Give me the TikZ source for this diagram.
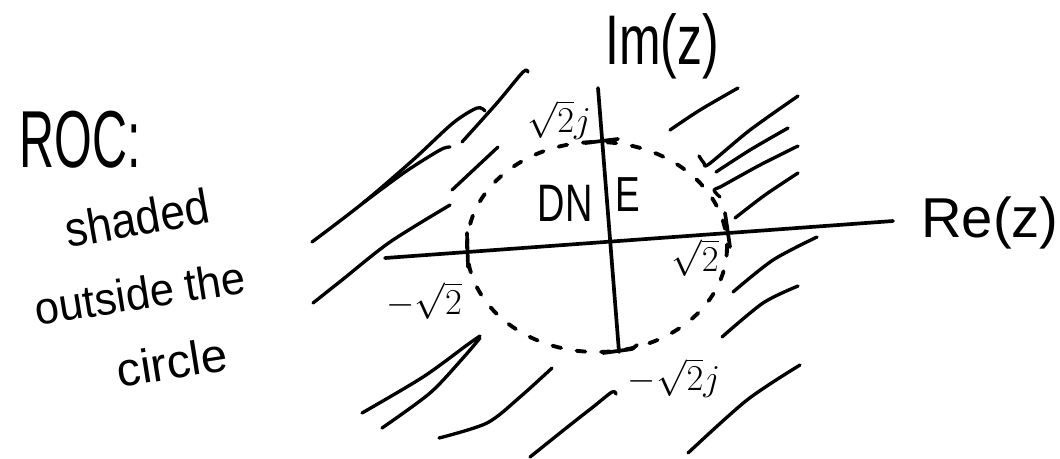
\documentclass[tikz,border=0pt]{standalone}
\usepackage{fontspec}
\setmainfont{Liberation Sans}
\usepackage{graphicx}
\newcommand{\squeeze}[2]{\scalebox{#1}[1]{#2}}

\begin{document}
\begin{tikzpicture}[x=0.02cm, y=-0.02cm, line width=2pt, line cap=round, line join=round,
    hatch/.style={line width=1.9pt},
    axis/.style={line width=2.1pt},
    rim/.style={line width=2.2pt, dash pattern=on 5pt off 9pt},
    scrawl/.style={inner sep=0pt},
    tag/.style={font=\fontsize{22}{26}\selectfont, inner sep=0pt}]

    \useasboundingbox (0,0) rectangle (1060,458);

    % axes
    \coordinate (reL) at (385,258);
    \coordinate (reR) at (893,221);
    \coordinate (imT) at (598,88);
    \coordinate (imB) at (619,352);
    \draw[axis] (reL) -- (reR);
    \draw[axis] (imT) -- (imB);

    % ticks at +-sqrt2 and +-sqrt2 j
    \draw[axis] (467,233) -- (468,267);
    \draw[axis] (725,213) -- (730,247);
    \draw[axis] (585,143) -- (618,139);
    \draw[axis] (603,353) -- (632,349) -- (637,345);

    % dashed circle |z| = sqrt2
    \draw[rim] (597,247) ellipse [x radius=130, y radius=105];

    % shading, upper left
    \draw[hatch] plot[smooth] coordinates {(312,242) (363,203) (413,160) (453,123) (477,108) (485,111)};
    \draw[hatch] plot[smooth] coordinates {(363,203) (405,172) (440,150) (450,147)};
    \draw[hatch] plot[smooth] coordinates {(462,142) (497,103) (523,72) (528,72)};
    \draw[hatch] (452,190) -- (498,147);
    \draw[hatch] plot[smooth] coordinates {(313,303) (342,280) (390,242) (450,205)};

    % shading, lower left
    \draw[hatch] plot[smooth] coordinates {(362,413) (423,377) (467,345) (480,336)};
    \draw[hatch] plot[smooth] coordinates {(382,428) (430,393) (463,358) (480,338)};
    \draw[hatch] plot[smooth] coordinates {(439,438) (487,423) (520,397) (552,368)};
    \draw[hatch] plot[smooth] coordinates {(530,457) (570,425) (593,407) (612,392) (616,394)};

    % shading, lower right
    \draw[hatch] plot[smooth] coordinates {(688,453) (747,400) (800,365)};
    \draw[hatch] plot[smooth] coordinates {(722,337) (763,303) (798,286)};
    \draw[hatch] plot[smooth] coordinates {(733,292) (773,260) (817,237)};

    % shading, upper right
    \draw[hatch] plot[smooth] coordinates {(670,130) (700,110) (738,88)};
    \draw[hatch] plot[smooth] coordinates {(699,156) (704,163) (709,164) (750,130) (798,96)};
    \draw[hatch] plot[smooth] coordinates {(716,172) (750,150) (788,128)};
    \draw[hatch] plot[smooth] coordinates {(720,197) (714,190) (722,186) (760,165) (798,146)};
    \draw[hatch] plot[smooth] coordinates {(735,218) (765,195) (798,173)};

    % axis labels
    \node[scrawl] (imlab) at (662,46) {\fontsize{40}{44}\selectfont\squeeze{0.71}{Im(z)}};
    \node[scrawl] (relab) at (990,223) {\fontsize{32}{36}\selectfont Re(z)};

    % region labels
    \node[scrawl] (dn) at (565,203) {\fontsize{30}{34}\selectfont\squeeze{0.72}{DN}};
    \node[scrawl] (e) at (628,195) {\fontsize{28}{32}\selectfont\squeeze{0.75}{E}};

    % tick labels
    \node[tag] (ptop) at (559,120) {$\sqrt{2}j$};
    \node[tag] (pleft) at (424,301) {$-\sqrt{2}$};
    \node[tag] (pright) at (695,258) {$\sqrt{2}$};
    \node[tag] (pbot) at (674,378) {$-\sqrt{2}j$};

    % note on the left
    \node[scrawl] (roc) at (80,140) {\fontsize{46}{50}\selectfont\squeeze{0.6}{ROC:}};
    \node[scrawl, rotate=10] (shaded) at (137,218) {\fontsize{28}{31}\selectfont\squeeze{0.9}{shaded}};
    \node[scrawl, rotate=9] (outside) at (140,293) {\fontsize{26}{29}\selectfont\squeeze{0.95}{outside the}};
    \node[scrawl, rotate=9] (circ) at (172,362) {\fontsize{27}{30}\selectfont circle};

\end{tikzpicture}
\end{document}
